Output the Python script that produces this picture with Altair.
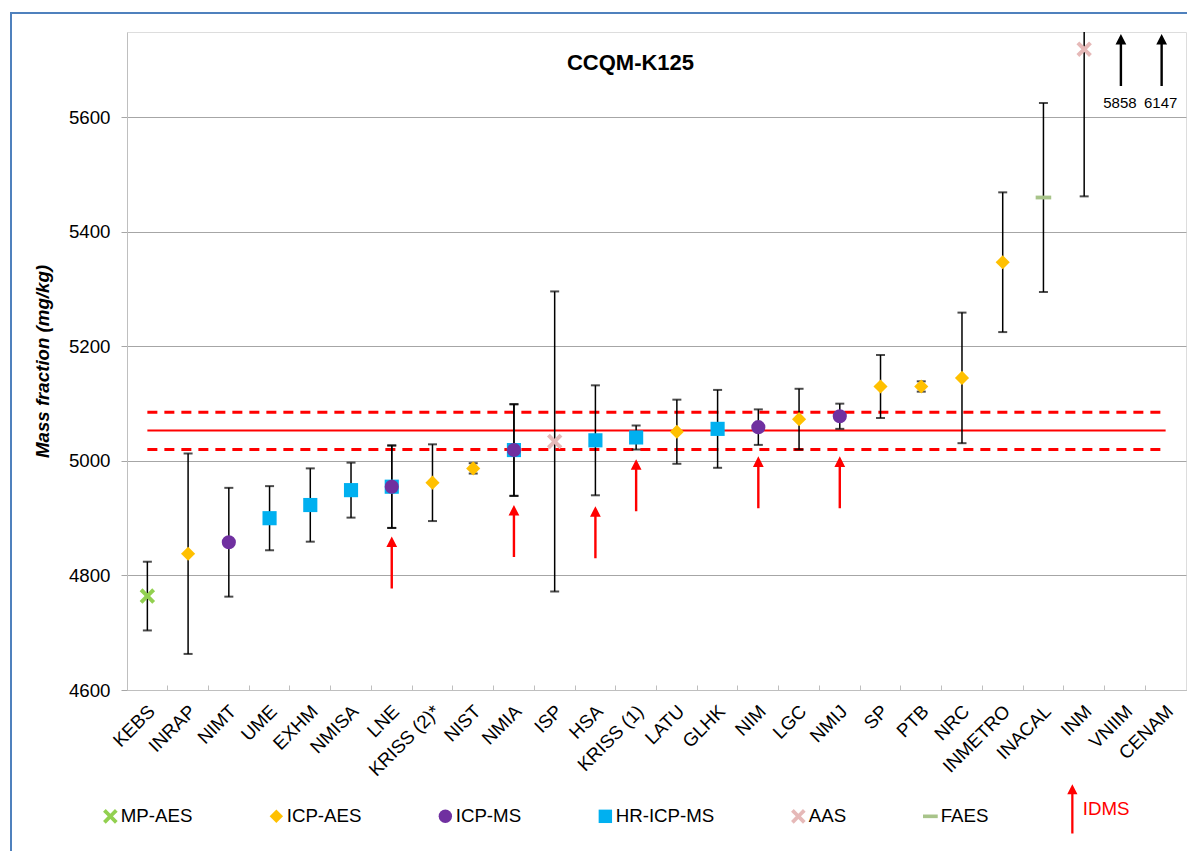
import altair as alt
import pandas as pd

# ---------------- data ----------------
LABS = ["KEBS", "INRAP", "NIMT", "UME", "EXHM", "NMISA", "LNE", "KRISS (2)*", "NIST",
        "NMIA", "ISP", "HSA", "KRISS (1)", "LATU", "GLHK", "NIM", "LGC", "NMIJ", "SP",
        "PTB", "NRC", "INMETRO", "INACAL", "INM", "VNIIM", "CENAM"]

RES_LAB = ["KEBS", "INRAP", "NIMT", "UME", "EXHM", "NMISA", "LNE", "LNE", "KRISS (2)*", "NIST",
           "NMIA", "NMIA", "ISP", "HSA", "KRISS (1)", "LATU", "GLHK", "NIM", "LGC", "NMIJ",
           "SP", "PTB", "NRC", "INMETRO", "INACAL", "INM"]
RES_METHOD = ["MP-AES", "ICP-AES", "ICP-MS", "HR-ICP-MS", "HR-ICP-MS", "HR-ICP-MS", "HR-ICP-MS",
              "ICP-MS", "ICP-AES", "ICP-AES", "HR-ICP-MS", "ICP-MS", "AAS", "HR-ICP-MS",
              "HR-ICP-MS", "ICP-AES", "HR-ICP-MS", "ICP-MS", "ICP-AES", "ICP-MS", "ICP-AES",
              "ICP-AES", "ICP-AES", "ICP-AES", "FAES", "AAS"]
RES_VALUE = [4764, 4838, 4858, 4900, 4923, 4949, 4955, 4955, 4962, 4987, 5019, 5019, 5034,
             5036, 5041, 5051, 5056, 5059, 5073, 5078, 5130, 5130, 5145, 5347, 5460, 5719]
RES_U = [60, 175, 95, 56, 64, 48, 72, 72, 67, 9, 80, 80, 262, 96, 21, 56, 68, 31, 53, 22,
         55, 9, 114, 122, 165, 257]

OFF_LAB = ["VNIIM", "CENAM"]
OFF_VALUE = [5858, 6147]

IDMS_LAB = ["LNE", "NMIA", "HSA", "KRISS (1)", "NIM", "NMIJ"]
IDMS_TIP = [4868, 4923, 4921, 5003, 5008, 5008]

KCRV = 5053
KCRV_LO = 5020
KCRV_HI = 5085

METHODS = ["MP-AES", "ICP-AES", "ICP-MS", "HR-ICP-MS", "AAS", "FAES", "IDMS"]
COLORS = ["#92D050", "#FFC000", "#7030A0", "#00B0F0", "#E6B9B8", "#A8C48A", "#FF0000"]

# ---------------- styles ----------------
X_PATH = ("M1.09,-0.69L0.39,0L1.09,0.69L0.69,1.09L0,0.39L-0.69,1.09L-1.09,0.69L-0.39,0"
          "L-1.09,-0.69L-0.69,-1.09L0,-0.39L0.69,-1.09Z")
DASH_PATH = "M-1.1,-0.27L1.1,-0.27L1.1,0.27L-1.1,0.27Z"
ARROW_PATH = ("M0,-3.68L0.76,-2.18L0.17,-2.18L0.17,3.68L-0.17,3.68L-0.17,-2.18"
              "L-0.76,-2.18Z")
SHAPES = [X_PATH, "diamond", "circle", "square", X_PATH, DASH_PATH, ARROW_PATH]

FONT = "Liberation Sans"
W, H = 1059, 658
STEP = W / len(LABS)
Y_MIN, Y_MAX = 4600, 5749
MSIZE = 200
ARROW_HALF = 26  # half height of the arrow glyph in px

# ---------------- tables ----------------
res = pd.DataFrame({"lab": RES_LAB, "method": RES_METHOD, "value": RES_VALUE, "u": RES_U})
res["lo"] = res["value"] - res["u"]
res["hi"] = res["value"] + res["u"]
caps = pd.concat([pd.DataFrame({"lab": res["lab"], "y": res["lo"]}),
                  pd.DataFrame({"lab": res["lab"], "y": res["hi"]})])
idms = pd.DataFrame({"lab": IDMS_LAB, "tip": IDMS_TIP, "method": ["IDMS"] * len(IDMS_LAB)})
off = pd.DataFrame({"lab": OFF_LAB, "value": OFF_VALUE})
ends = [LABS[0], LABS[-1]]
ref_solid = pd.DataFrame({"lab": ends, "y": [KCRV, KCRV]})
ref_dash = pd.DataFrame({"lab": ends * 2, "y": [KCRV_LO, KCRV_LO, KCRV_HI, KCRV_HI],
                         "lvl": ["lo", "lo", "hi", "hi"]})

# ---------------- encodings ----------------
xscale = alt.Scale(type="band", domain=LABS, paddingInner=0, paddingOuter=0)
xaxis = alt.Axis(title=None, labelAngle=-45, labelAlign="right", labelBaseline="middle",
                 labelFont=FONT, labelFontSize=18.7, labelColor="#000000", labelPadding=23,
                 labelOffset=STEP / 2 - 16, bandPosition=0, tickSize={"expr": "-5"},
                 tickColor="#BFBFBF", domainColor="#BFBFBF", grid=False, labelOverlap=False)
X = alt.X("lab:N", scale=xscale, axis=xaxis)

yscale = alt.Scale(domain=[Y_MIN, Y_MAX], nice=False, zero=False)
yaxis = alt.Axis(title="Mass fraction (mg/kg)", values=[4600, 4800, 5000, 5200, 5400, 5600],
                 format="d",
                 titleFont=FONT, titleFontSize=18.7, titleFontStyle="italic",
                 titleFontWeight="bold", titleColor="#000000", titlePadding=16,
                 labelFont=FONT, labelFontSize=18.7, labelColor="#000000", labelPadding=11,
                 tickSize=6, tickColor="#A6A6A6", domainColor="#BFBFBF",
                 gridColor="#A6A6A6", gridWidth=1)


def Y(field):
    return alt.Y(f"{field}:Q", scale=yscale, axis=yaxis)


LEG = alt.Legend(title=None, orient="none", legendX=-26, legendY=767, direction="horizontal",
                 labelFont=FONT, labelFontSize=18.7,
                 labelColor={"expr": "datum.label == 'IDMS' ? '#FF0000' : '#000000'"},
                 symbolSize=180, symbolStrokeWidth=0, symbolOpacity=1, labelOffset=1,
                 columnPadding=74, padding=0, labelLimit=300)
COLOR = alt.Color("method:N", scale=alt.Scale(domain=METHODS, range=COLORS), legend=LEG)
SHAPE = alt.Shape("method:N", scale=alt.Scale(domain=METHODS, range=SHAPES), legend=LEG)

# ---------------- layers ----------------
frame = alt.Chart(pd.DataFrame({"k": [0]})).mark_rect(
    fill="transparent", stroke="#4F81BD", strokeWidth=2
).encode(x=alt.value(-116), x2=alt.value(1070), y=alt.value(-19), y2=alt.value(840))

solid = alt.Chart(ref_solid).mark_line(color="#FF0000", strokeWidth=2).encode(x=X, y=Y("y"))
dashed = alt.Chart(ref_dash).mark_line(color="#FF0000", strokeWidth=3, strokeDash=[10, 7]).encode(
    x=X, y=Y("y"), detail="lvl:N")

bars = alt.Chart(res).mark_rule(color="#000000", strokeWidth=1.5, clip=True).encode(
    x=X, y=Y("lo"), y2="hi:Q")
cap = alt.Chart(caps).mark_tick(color="#000000", thickness=2, size=9, clip=True).encode(
    x=X, y=Y("y"))

pts = alt.Chart(res).mark_point(filled=True, size=MSIZE, opacity=1, strokeWidth=0).encode(
    x=X, y=Y("value"), color=COLOR, shape=SHAPE)

arrows = alt.Chart(idms).mark_point(filled=True, size=MSIZE, opacity=1, strokeWidth=0,
                                    yOffset=ARROW_HALF).encode(
    x=X, y=Y("tip"), color=COLOR, shape=SHAPE)

off_arrows = alt.Chart(off).mark_point(filled=True, size=MSIZE, opacity=1, strokeWidth=0,
                                       shape=ARROW_PATH, color="#000000",
                                       yOffset=ARROW_HALF + 2, xOffset=-4).encode(
    x=X, y=alt.datum(Y_MAX))
off_text = alt.Chart(off).mark_text(font=FONT, fontSize=15, color="#000000", baseline="middle",
                                    yOffset=71, xOffset=-5).encode(
    x=X, y=alt.datum(Y_MAX), text="value:Q")

chart = alt.layer(frame, solid, dashed, bars, cap, pts, arrows, off_arrows, off_text).properties(
    width=W, height=H,
    title=alt.TitleParams(text="CCQM-K125", anchor="middle", font=FONT, fontSize=22,
                          fontWeight="bold", color="#000000", dx=-26, dy=41, offset=-32,
                          baseline="middle"),
    autosize="none",
    padding={"left": 127, "top": 32, "right": 1, "bottom": 161},
).configure_view(stroke="#BFBFBF", strokeWidth=1).configure(font=FONT, background="white")

chart.save("out.html", embed_options={"renderer": "svg", "actions": False})
